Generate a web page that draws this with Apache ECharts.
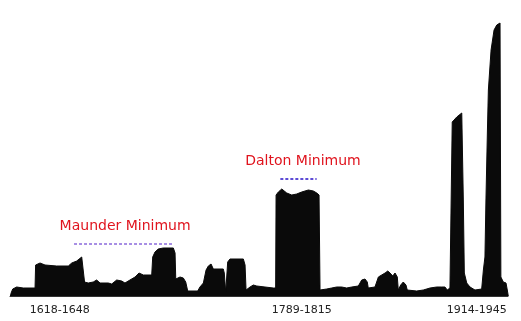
<!DOCTYPE html>
<html>
<head>
<meta charset="utf-8">
<script src="https://cdn.jsdelivr.net/npm/echarts@6/dist/echarts.min.js"></script>
<style>
html,body{margin:0;padding:0;background:#fff;}
#c{width:521px;height:321px;}
</style>
</head>
<body>
<div id="c"></div>
<script>
// Silhouette profile: year and relative height
var years = [
  1600.3,1600.8,1601.9,1604.7,1609.3,1617.6,1618.0,1618.8,1621.1,1624.6,
  1632.8,1641.0,1643.4,1646.9,1650.4,1651.5,1652.4,1655.0,1658.5,1660.9,
  1663.3,1669.1,1671.5,1675.0,1678.5,1680.8,1684.3,1687.9,1690.7,1693.7,
  1699.6,1700.3,1701.9,1704.2,1707.7,1714.8,1716.0,1716.5,1719.5,1721.8,
  1723.5,1724.9,1731.9,1733.5,1735.9,1737.8,1739.4,1741.3,1742.9,1749.9,
  1750.6,1751.6,1753.0,1754.6,1764.0,1765.2,1765.9,1768.7,1771.0,1773.4,
  1779.2,1785.1,1786.7,1787.0,1788.6,1791.0,1794.5,1798.0,1801.5,1805.0,
  1809.7,1813.2,1815.6,1817.2,1817.9,1822.6,1826.1,1829.6,1833.1,1836.6,
  1840.2,1844.8,1847.2,1849.5,1851.1,1851.8,1856.5,1858.9,1861.2,1863.6,
  1865.5,1867.1,1869.0,1870.6,1872.2,1872.9,1874.6,1876.4,1878.3,1879.2,
  1885.8,1890.5,1895.2,1899.9,1903.4,1905.7,1907.3,1909.2,1910.4,1910.8,
  1914.0,1917.5,1918.2,1918.6,1919.3,1921.0,1923.3,1926.8,1931.5,1932.7,
  1933.8,1934.5,1935.5,1936.2,1938.1,1940.2,1942.1,1944.4,1944.8,1945.0,
  1946.7,1948.6,1949.5,1950.2
];
var values = [
  0,3,7,9,8,8,31,31,33,31,
  30,30,33,35,39,39,14,13,14,16,
  13,13,12,16,15,13,16,19,23,21,
  21,39,44,47,48,48,43,17,19,18,
  14,5,5,9,13,26,30,32,27,27,
  23,4,34,37,37,31,6,9,11,10,
  9,8,8,101,104,107,103,101,102,104,
  106,105,103,101,6,7,8,9,9,8,
  9,10,16,17,14,8,9,19,21,23,
  25,23,20,23,19,6,11,14,11,6,
  5,6,8,9,9,9,6,8,10,174,
  179,183,181,96,23,13,9,6,7,26,
  39,96,163,206,246,266,271,273,273,19,
  14,13,6,0
];
var tickYears = [1635, 1805, 1928];
var tickLabels = ['1618-1648', '1789-1815', '1914-1945'];
var minimaNames = ['Maunder Minimum', 'Dalton Minimum'];
var minimaStart = [1645, 1790];
var minimaEnd = [1714, 1815.5];
var minimaLevel = [52, 117];
var minimaColors = ['#8a6adc', '#2a10c8'];
var minimaLabelShift = [4, 9];

var pts = years.map(function (y, i) { return [y, values[i]]; });

var markData = minimaNames.map(function (n, i) {
  return [
    { name: n, coord: [minimaStart[i], minimaLevel[i]],
      lineStyle: { color: minimaColors[i] },
      label: { padding: [0, 0, 0, minimaLabelShift[i]] } },
    { coord: [minimaEnd[i], minimaLevel[i]] }
  ];
});

var chart = echarts.init(document.getElementById('c'), null, { renderer: 'canvas' });
chart.setOption({
  animation: false,
  backgroundColor: '#ffffff',
  grid: { left: 10, right: 13, top: 16, bottom: 25, containLabel: false },
  xAxis: {
    type: 'value', min: 1600, max: 1950,
    splitLine: { show: false },
    axisLine: { show: true, lineStyle: { color: '#333', width: 1 } },
    axisTick: { show: false },
    axisLabel: {
      customValues: tickYears,
      formatter: function (v) {
        var i = tickYears.indexOf(v);
        return i >= 0 ? tickLabels[i] : '';
      },
      color: '#222', fontFamily: 'DejaVu Sans', fontSize: 11, margin: 9
    }
  },
  yAxis: {
    type: 'value', min: 0, max: 280, show: false, splitLine: { show: false }
  },
  series: [{
    type: 'line',
    data: pts,
    symbol: 'none',
    smooth: false,
    lineStyle: { color: '#0a0a0a', width: 1 },
    areaStyle: { color: '#0a0a0a', opacity: 1, origin: 'start' },
    markLine: {
      silent: true,
      symbol: ['none', 'none'],
      lineStyle: { type: [3, 2], width: 1.5 },
      label: {
        show: true, position: 'middle', formatter: '{b}',
        color: '#e0141e', fontFamily: 'DejaVu Sans', fontSize: 14, distance: 11
      },
      data: markData
    }
  }]
});
</script>
</body>
</html>
